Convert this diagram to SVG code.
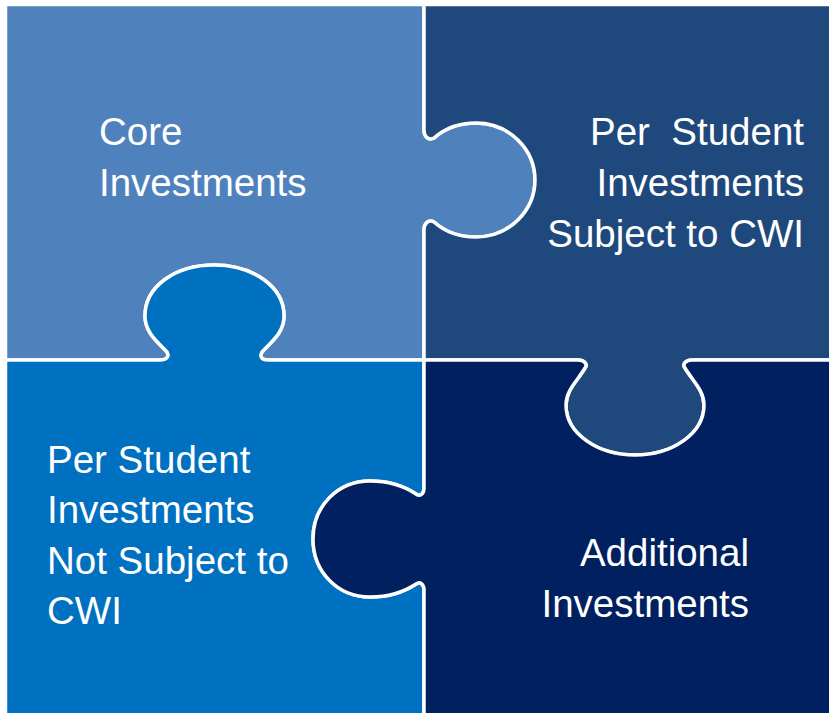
<svg xmlns="http://www.w3.org/2000/svg" width="829" height="713" viewBox="0 0 829 713">
  <style>
    .piece { stroke: #FFFFFF; stroke-width: 3.5; stroke-linejoin: round; }
    .lbl { font-family: "Liberation Sans", Arial, sans-serif; font-size: 38.5px; fill: #FFFFFF; white-space: pre; }
    .end { text-anchor: end; }
  </style>
  <rect width="829" height="713" fill="#FFFFFF"/>
  <g id="core-investments">
    <path class="piece" fill="#4F81BD" d="M 5.5,4.5 L 424,4.5 L 424,130
      C 424,136 428,141 434,138 C 444,129 456,123 476,123 C 510,123 535,150 535,180
      C 535,210 510,237 476,237 C 456,237 444,231 434,222 C 428,219 424,224 424,230
      L 424,360 L 268,360
      C 262,360 259,357 262,352 C 271,342 284,333 284,316 C 284,286 252,265 214,265
      C 176,265 145,286 145,316 C 145,333 158,342 167,352 C 170,357 166,360 160,360
      L 5.5,360 Z"/>
    <text class="lbl" x="99" y="145">Core</text>
    <text class="lbl" x="99" y="196">Investments</text>
  </g>
  <g id="per-student-subject">
    <path class="piece" fill="#1F497D" d="M 424,4.5 L 832,4.5 L 832,360 L 692,360
      C 686,360 682,364 685,368 C 692,380 704,390 704,405 C 704,434 672,455 635,455
      C 598,455 566,434 566,405 C 566,390 578,380 585,368 C 588,364 584,360 578,360
      L 424,360 L 424,230
      C 424,224 428,219 434,222 C 444,231 456,237 476,237 C 510,237 535,210 535,180
      C 535,150 510,123 476,123 C 456,123 444,129 434,138 C 428,141 424,136 424,130
      Z"/>
    <text class="lbl end" x="804" y="145">Per  Student</text>
    <text class="lbl end" x="804" y="196">Investments</text>
    <text class="lbl end" x="804" y="247">Subject to CWI</text>
  </g>
  <g id="per-student-not-subject">
    <path class="piece" fill="#0070C0" d="M 5.5,360 L 160,360
      C 166,360 170,357 167,352 C 158,342 145,333 145,316 C 145,286 176,265 214,265
      C 252,265 284,286 284,316 C 284,333 271,342 262,352 C 259,357 262,360 268,360
      L 424,360 L 424,488
      C 424,494 420,497 416,494 C 404,486 390,481 370,481 C 338,481 313,506 313,539
      C 313,572 338,597 370,597 C 390,597 404,592 416,584 C 420,581 424,584 424,590
      L 424,716 L 5.5,716 Z"/>
    <text class="lbl" x="47" y="473">Per Student</text>
    <text class="lbl" x="47" y="523">Investments</text>
    <text class="lbl" x="47" y="574">Not Subject to</text>
    <text class="lbl" x="47" y="624">CWI</text>
  </g>
  <g id="additional-investments">
    <path class="piece" fill="#002060" d="M 424,360 L 578,360
      C 584,360 588,364 585,368 C 578,380 566,390 566,405 C 566,434 598,455 635,455
      C 672,455 704,434 704,405 C 704,390 692,380 685,368 C 682,364 686,360 692,360
      L 832,360 L 832,716 L 424,716 L 424,590
      C 424,584 420,581 416,584 C 404,592 390,597 370,597 C 338,597 313,572 313,539
      C 313,506 338,481 370,481 C 390,481 404,486 416,494 C 420,497 424,494 424,488
      Z"/>
    <text class="lbl end" x="749" y="566">Additional</text>
    <text class="lbl end" x="749" y="617">Investments</text>
  </g>
  <g id="connectors"></g>
</svg>
